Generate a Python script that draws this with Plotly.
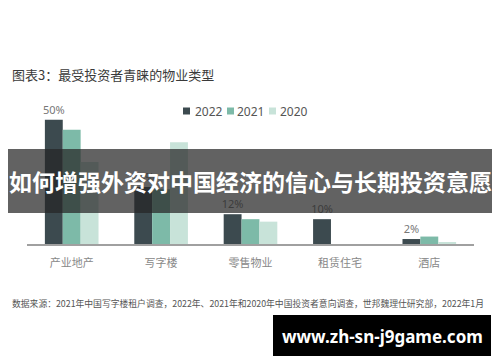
import plotly.graph_objects as go

categories = ["产业地产", "写字楼", "零售物业", "租赁住宅", "酒店"]
series_names = ["2022", "2021", "2020"]
values_2022 = [50, 23, 12, 10, 2]
values_2021 = [46, 22, 10, 0, 3]
values_2020 = [33, 41, 9, 0, 0.5]
labels_2022 = ["50%", "23%", "12%", "10%", "2%"]
colors = ["#3c4a4f", "#7dbaa8", "#c8e3d9"]

W, H = 500, 362
ML, MR, MT, MB = 27, 26, 95, 118
PW, PH = W - ML - MR, H - MT - MB

def px(x):
    return (x - ML) / PW

def py(y):
    return (H - MB - y) / PH

fig = go.Figure()
for name, vals, col in zip(series_names, [values_2022, values_2021, values_2020], colors):
    fig.add_trace(go.Bar(
        x=categories, y=vals, name=name, marker_color=col, marker_line_width=0,
        text=labels_2022 if name == "2022" else None,
        textposition="outside" if name == "2022" else "none",
        constraintext="none",
        textfont=dict(size=11, color="#777777", family="Noto Sans"),
        cliponaxis=False, showlegend=False,
    ))

shapes = []
annotations = []

# title
annotations.append(dict(x=px(10), y=py(74), xref="paper", yref="paper", xanchor="left", yanchor="middle",
                        text="图表3：最受投资者青睐的物业类型", showarrow=False,
                        font=dict(size=13, color="#3a3a3a", family="Noto Sans CJK SC")))

# legend (manual)
leg_sq_x = [183, 227, 269]
leg_tx_x = [193, 235, 278]
for name, col, sx, tx in zip(series_names, colors, leg_sq_x, leg_tx_x):
    shapes.append(dict(type="rect", xref="paper", yref="paper", x0=px(sx), x1=px(sx + 7),
                       y0=py(114.5), y1=py(107.5), fillcolor=col, line=dict(width=0)))
    annotations.append(dict(x=px(tx), y=py(111), xref="paper", yref="paper", xanchor="left", yanchor="middle",
                            text=name, showarrow=False,
                            font=dict(size=12, color="#555555", family="Noto Sans")))

# source
annotations.append(dict(x=px(10), y=py(303), xref="paper", yref="paper", xanchor="left", yanchor="middle",
                        text="数据来源：2021年中国写字楼租户调查，2022年、2021年和2020年中国投资者意向调查，世邦魏理仕研究部，2022年1月",
                        showarrow=False, font=dict(size=8.8, color="#555555", family="Noto Sans CJK SC")))

# banner overlay
shapes.append(dict(type="rect", xref="paper", yref="paper", x0=px(8), x1=px(492), y0=py(213), y1=py(149),
                   fillcolor="rgba(38,38,38,0.72)", line=dict(width=0), layer="above"))
annotations.append(dict(x=px(250), y=py(181), xref="paper", yref="paper", xanchor="center", yanchor="middle",
                        text="<b>如何增强外资对中国经济的信心与长期投资意愿</b>", showarrow=False,
                        font=dict(size=23, color="#ffffff", family="Noto Sans CJK SC")))

# watermark
shapes.append(dict(type="rect", xref="paper", yref="paper", x0=px(273), x1=px(491), y0=py(356), y1=py(315),
                   fillcolor="#000000", line=dict(width=0), layer="above"))
annotations.append(dict(x=px(382), y=py(336), xref="paper", yref="paper", xanchor="center", yanchor="middle",
                        text="<b>www.zh-sn-j9game.com</b>", showarrow=False,
                        font=dict(size=17, color="#ffffff", family="Noto Sans")))

fig.update_layout(
    width=W, height=H, margin=dict(l=ML, r=MR, t=MT, b=MB),
    paper_bgcolor="white", plot_bgcolor="white",
    barmode="group", bargap=0.4, bargroupgap=0,
    shapes=shapes, annotations=annotations, showlegend=False,
    xaxis=dict(showline=True, linecolor="#a0a0a0", linewidth=2, ticks="", showgrid=False,
               ticklabelstandoff=8,
               tickfont=dict(size=11, color="#888888", family="Noto Sans CJK SC"), fixedrange=True),
    yaxis=dict(range=[0, 60], visible=False, showgrid=False, zeroline=False, fixedrange=True),
)

fig.write_html("out.html")
